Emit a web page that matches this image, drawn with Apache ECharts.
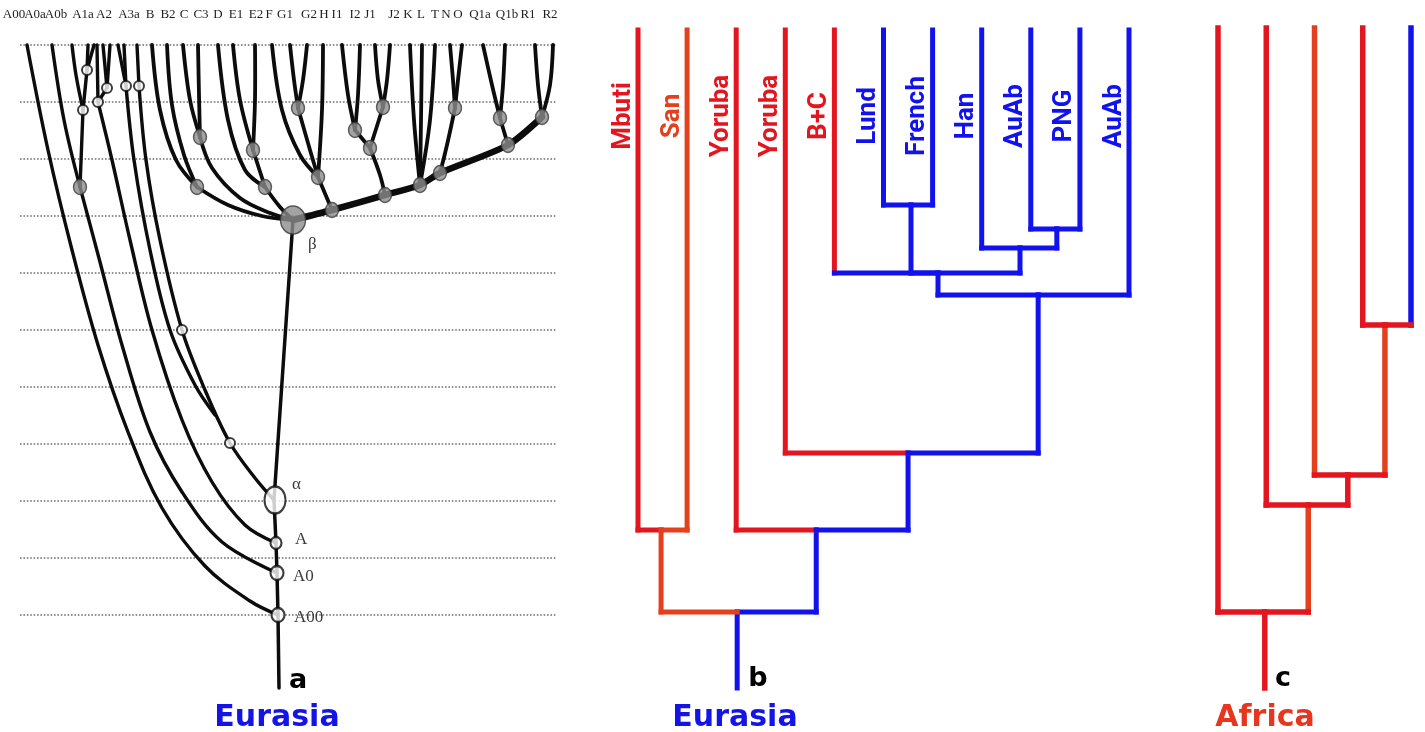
<!DOCTYPE html>
<html><head><meta charset="utf-8">
<script src="https://cdn.jsdelivr.net/npm/echarts@6/dist/echarts.min.js"></script>
<style>html,body{margin:0;padding:0;background:#fff}#c{width:1425px;height:732px}</style>
</head><body><div id="c"></div>
<script>
// ================= DATA =================
// ---- Panel a: digitised Y-chromosome tree (panel units = picture px) ----
const aGridLevels = [45,102,159,216,273,330,387,444,501,558,615];
const aTipLabels = ['A00','A0a','A0b','A1a','A2','A3a','B','B2','C','C3','D','E1','E2','F','G1','G2','H','I1','I2','J1','J2','K','L','T','N','O','Q1a','Q1b','R1','R2'];
const aTipLabelX = [14,35,56,83,104,129,150,168,184,201,218,236,256,269,285,309,324,337,355,370,394,408,421,435,446,458,480,507,528,550];
const aTrunk = [[279,688],[278,615],[277,573],[276,543],[274,500],[293,220]];
const aCurves = [
  [[278,615],[250,601],[205,566],[162,508],[128,432],[98,345],[72,250],[48,150],[27,45]],
  [[277,573],[222,542],[182,492],[150,432],[122,345],[100,262],[80,187]],
  [[80,187],[64,120],[52,45]],
  [[80,187],[83,110]],
  [[83,110],[76,75],[72,45]],
  [[83,110],[87,70]],
  [[87,70],[88,45]],
  [[87,70],[94,45]],
  [[276,543],[245,525],[212,482],[182,420],[152,330],[130,240],[112,160],[98,102]],
  [[98,102],[97,45]],
  [[98,102],[107,88]],
  [[107,88],[103,45]],
  [[107,88],[110,45]],
  [[274,500],[255,478],[230,443],[205,390],[182,330],[160,240],[146,160],[139,86]],
  [[139,86],[137,45]],
  [[215,415],[195,385],[170,330],[150,250],[134,160],[126,86]],
  [[126,86],[118,45]],
  [[126,86],[124,45]]
];
const aBetaCurves = [
  [[152,45],[160,110],[176,160],[197,187]],
  [[167,45],[172,105],[184,155],[197,187]],
  [[183,45],[190,100],[200,137]],
  [[198,45],[199,95],[200,137]],
  [[197,187],[228,205],[262,216],[293,220]],
  [[200,137],[212,168],[240,198],[270,213],[293,220]],
  [[218,45],[228,120],[245,170],[265,187]],
  [[233,45],[240,100],[253,150]],
  [[255,45],[255,100],[253,150]],
  [[253,150],[265,187]],
  [[265,187],[280,207],[293,220]],
  [[272,45],[282,110],[300,155],[318,177]],
  [[290,45],[294,80],[298,108]],
  [[307,45],[303,80],[298,108]],
  [[298,108],[310,150],[318,177]],
  [[323,45],[322,110],[318,177]],
  [[318,177],[332,210]],
  [[342,45],[348,95],[355,130]],
  [[360,45],[358,95],[355,130]],
  [[355,130],[370,148]],
  [[375,45],[378,80],[383,107]],
  [[390,45],[387,80],[383,107]],
  [[383,107],[370,148]],
  [[370,148],[380,175],[385,195]],
  [[410,45],[414,120],[420,185]],
  [[422,45],[421,120],[420,185]],
  [[435,45],[430,120],[420,185]],
  [[450,45],[453,80],[455,108]],
  [[462,45],[458,80],[455,108]],
  [[455,108],[447,145],[440,173]],
  [[483,45],[492,85],[500,118]],
  [[505,45],[503,85],[500,118]],
  [[500,118],[508,145]],
  [[535,45],[538,85],[542,117]],
  [[553,45],[550,85],[542,117]]
];
const aBackbone = [[293,220],[332,210],[385,195],[420,185],[440,173],[508,145],[542,117]];
const aWhiteNodes = [[87,70],[83,110],[98,102],[107,88],[126,86],[139,86],[182,330],[230,443]];
const aGrayNodes = [[80,187],[197,187],[200,137],[253,150],[265,187],[298,108],[318,177],[332,210],[355,130],[370,148],[383,107],[385,195],[420,185],[440,173],[455,108],[500,118],[508,145],[542,117]];
const aNamedNodes = ['A00','A0','A','α'];
const aNamedNodePos = [[278,615],[277,573],[276,543],[275,500]];
const aBetaNode = [293,220];

// ---- Panel b: Eurasia dendrogram (x = leaf index, y = depth from tips) ----
const bLeafNames = ['Mbuti','San','Yoruba','Yoruba','B+C','Lund','French','Han','AuAb','PNG','AuAb'];
const bLeafColor = ['R','O','R','R','R','B','B','B','B','B','B'];
const bLeafBarColor = ['R','O','R','R','B','B','B','B','B','B','B'];
const bLeafParent = ['MS','MS','Y1','Y2','BC','LF','LF','HAP','AP','AP','AU2'];
const bNodeIds = ['LF','AP','HAP','BC','AU2','Y2','Y1','MS','ROOT'];
const bNodeX = [5.56,8.53,7.78,6.11,8.15,5.50,3.63,0.47,2.02];
const bNodeDepth = [175,199,218,243,265,423,500,500,582];
const bNodeParent = ['BC','HAP','BC','AU2','Y2','Y1','ROOT','ROOT',null];
const bNodeColor = ['B','B','B','B','B','B','B','O','B'];
const bNodeBarColor = ['B','B','B','B','B','B','B','O','B'];
const bStemDepth = 658;

// ---- Panel c: Africa dendrogram ----
const cLeafColor = ['R','R','O','R','B'];
const cLeafBarColor = ['R','R','R','R','R'];
const cLeafParent = ['CR','N2','N3','N4','N4'];
const cNodeIds = ['N4','N3','N2','CR'];
const cNodeX = [3.46,2.69,1.87,0.97];
const cNodeDepth = [297,447,477,584];
const cNodeParent = ['N3','N2','CR',null];
const cNodeColor = ['O','R','O','R'];
const cNodeBarColor = ['R','R','R','R'];
const cStemDepth = 660;

// ================= RENDER =================
const COL = {R:'#e3161f', O:'#e5401e', B:'#1212ee'};
const CKEYS = ['R','O','B'];

function buildSegments(leafColor, leafBar, leafParent, nodeIds, nodeX, nodeDepth, nodeParent, nodeColor, nodeBar, stemDepth){
  const ents = {};
  nodeIds.forEach((id,i)=>{ ents[id] = {x:nodeX[i], d:nodeDepth[i]}; });
  const segs = [];
  const addEdge = (x, d, pid, vc, hc) => {
    const p = ents[pid];
    segs.push([x, d, x, p.d, CKEYS.indexOf(vc)]);
    segs.push([x, p.d, p.x, p.d, CKEYS.indexOf(hc)]);
  };
  leafParent.forEach((pid,i)=> addEdge(i, 0, pid, leafColor[i], leafBar[i]));
  nodeIds.forEach((id,i)=>{
    if (nodeParent[i]) addEdge(nodeX[i], nodeDepth[i], nodeParent[i], nodeColor[i], nodeBar[i]);
    else segs.push([nodeX[i], nodeDepth[i], nodeX[i], stemDepth, CKEYS.indexOf(nodeColor[i])]);
  });
  return segs.filter(s=>s[0]===s[2]).concat(segs.filter(s=>s[0]!==s[2]));
}
const bSegs = buildSegments(bLeafColor,bLeafBarColor,bLeafParent,bNodeIds,bNodeX,bNodeDepth,bNodeParent,bNodeColor,bNodeBarColor,bStemDepth);
const cSegs = buildSegments(cLeafColor,cLeafBarColor,cLeafParent,cNodeIds,cNodeX,cNodeDepth,cNodeParent,cNodeColor,cNodeBarColor,cStemDepth);

function segSeries(idx, data, width){
  return {type:'custom', xAxisIndex:idx, yAxisIndex:idx, silent:true, data:data,
    renderItem:(params, api)=>{
      const p1 = api.coord([api.value(0), api.value(1)]);
      const p2 = api.coord([api.value(2), api.value(3)]);
      return {type:'line', shape:{x1:p1[0],y1:p1[1],x2:p2[0],y2:p2[1]},
        style:{stroke:COL[CKEYS[api.value(4)]], lineWidth:width, lineCap:'square'}};
    }};
}
function curveSeries(list, width, color, smooth){
  return {type:'custom', xAxisIndex:0, yAxisIndex:0, silent:true,
    data:list.map((c,i)=>[c[0][0], c[0][1], i]),
    renderItem:(params, api)=>{
      const pts = list[params.dataIndex].map(p=>api.coord(p));
      return {type:'polyline', shape:{points:pts, smooth:smooth},
        style:{stroke:color, lineWidth:width, fill:null, lineCap:'round', lineJoin:'round'}};
    }};
}

const chart = echarts.init(document.getElementById('c'), null, {renderer:'canvas'});
const INK = '#0c0c0c';
const option = {
  animation:false,
  backgroundColor:'#ffffff',
  grid:[
    {left:0, top:0, width:570, height:732},
    {left:638, top:30, width:491, height:658},
    {left:1218, top:28, width:193, height:660}
  ],
  xAxis:[
    {gridIndex:0, type:'value', min:0, max:570, show:false},
    {gridIndex:1, type:'value', min:0, max:10, show:false},
    {gridIndex:2, type:'value', min:0, max:4, show:false}
  ],
  yAxis:[
    {gridIndex:0, type:'value', min:0, max:732, inverse:true, show:false},
    {gridIndex:1, type:'value', min:0, max:658, inverse:true, show:false},
    {gridIndex:2, type:'value', min:0, max:660, inverse:true, show:false}
  ],
  series:[
    {type:'custom', xAxisIndex:0, yAxisIndex:0, silent:true, data:aGridLevels.map(v=>[v]),
      renderItem:(params, api)=>{
        const a = api.coord([20, api.value(0)]), b = api.coord([556, api.value(0)]);
        return {type:'line', shape:{x1:a[0],y1:a[1],x2:b[0],y2:b[1]},
          style:{stroke:'#6e6e6e', lineWidth:1.6, lineDash:[1.6,1.8]}};
      }},
    curveSeries(aCurves, 3.4, INK, 0.35),
    curveSeries(aBetaCurves, 3.8, INK, 0.35),
    curveSeries([aTrunk], 3.5, INK, 0),
    curveSeries([aBackbone], 6.5, INK, 0.25),
    {type:'scatter', xAxisIndex:0, yAxisIndex:0, silent:true, data:aWhiteNodes, symbol:'circle', symbolSize:10,
      itemStyle:{color:'#fff', borderColor:INK, borderWidth:2}},
    {type:'scatter', xAxisIndex:0, yAxisIndex:0, silent:true, data:aGrayNodes, symbol:'circle', symbolSize:[13,15],
      itemStyle:{color:'#8c8c8c', borderColor:'#3a3a3a', borderWidth:1.5}},
    {type:'scatter', xAxisIndex:0, yAxisIndex:0, silent:true, data:[aBetaNode], symbol:'circle', symbolSize:[25,28],
      itemStyle:{color:'#8c8c8c', borderColor:'#3a3a3a', borderWidth:1.5}},
    {type:'scatter', xAxisIndex:0, yAxisIndex:0, silent:true,
      data:aNamedNodes.map((n,i)=>({name:n, value:aNamedNodePos[i], symbolSize: n==='α'?[21,27]:(n==='A'?[11,12]:[13,14])})),
      symbol:'circle', itemStyle:{color:'#fff', borderColor:INK, borderWidth:2.2}},
    {type:'custom', xAxisIndex:0, yAxisIndex:0, silent:true,
      data:aNamedNodes.map((n,i)=>[aNamedNodePos[i][0], aNamedNodePos[i][1], i]).concat([[aBetaNode[0], aBetaNode[1], 4]]),
      renderItem:(params, api)=>{
        const names = aNamedNodes.concat(['β']);
        const off = {'A00':[16,3], 'A0':[16,4], 'A':[19,-3], 'α':[17,-15], 'β':[15,25]};
        const n = names[api.value(2)];
        const p = api.coord([api.value(0), api.value(1)]);
        return {type:'text', x:p[0]+off[n][0], y:p[1]+off[n][1],
          style:{text:n, fill:'#3a3a3a', font:'17px "Liberation Serif", serif', align:'left', verticalAlign:'middle'}};
      }},
    {type:'custom', xAxisIndex:0, yAxisIndex:0, silent:true, data:aTipLabelX.map((x,i)=>[x, 15, i]),
      renderItem:(params, api)=>{
        const p = api.coord([api.value(0), api.value(1)]);
        return {type:'text', x:p[0], y:p[1],
          style:{text:aTipLabels[api.value(2)], fill:'#1e1e1e', font:'13px "Liberation Serif", serif', align:'center', verticalAlign:'middle'}};
      }},
    segSeries(1, bSegs, 5),
    segSeries(2, cSegs, 5.5),
    {type:'custom', xAxisIndex:1, yAxisIndex:1, silent:true, data:bLeafNames.map((n,i)=>[i, 86, i]),
      renderItem:(params, api)=>{
        const p = api.coord([api.value(0), api.value(1)]);
        const i = api.value(2);
        return {type:'text', x:p[0]-15, y:p[1], rotation:Math.PI/2,
          style:{text:bLeafNames[i], fill:COL[bLeafColor[i]], font:'bold 26px Roboto, "DejaVu Sans", sans-serif', align:'center', verticalAlign:'middle'}};
      }}
  ],
  graphic:[
    {type:'text', x:298, y:681, style:{text:'a', fill:'#000', font:'bold 27px "DejaVu Sans", sans-serif', align:'center', verticalAlign:'middle'}},
    {type:'text', x:758, y:679, style:{text:'b', fill:'#000', font:'bold 27px "DejaVu Sans", sans-serif', align:'center', verticalAlign:'middle'}},
    {type:'text', x:1283, y:679, style:{text:'c', fill:'#000', font:'bold 27px "DejaVu Sans", sans-serif', align:'center', verticalAlign:'middle'}},
    {type:'text', x:277, y:718, style:{text:'Eurasia', fill:'#1414e6', font:'bold 30px "DejaVu Sans", sans-serif', align:'center', verticalAlign:'middle'}},
    {type:'text', x:735, y:718, style:{text:'Eurasia', fill:'#1414e6', font:'bold 30px "DejaVu Sans", sans-serif', align:'center', verticalAlign:'middle'}},
    {type:'text', x:1265, y:718, style:{text:'Africa', fill:'#e5371f', font:'bold 30px "DejaVu Sans", sans-serif', align:'center', verticalAlign:'middle'}}
  ]
};
chart.setOption(option);
</script>
</body></html>
